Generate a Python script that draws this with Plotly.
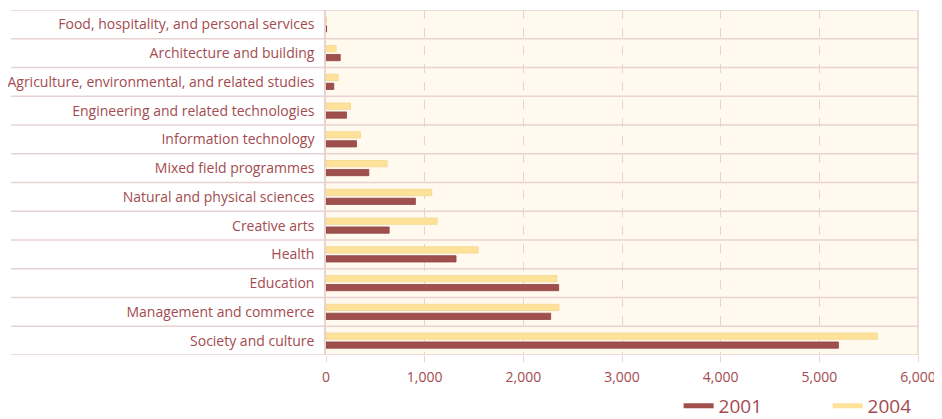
import plotly.graph_objects as go

categories = [
    "Society and culture",
    "Management and commerce",
    "Education",
    "Health",
    "Creative arts",
    "Natural and physical sciences",
    "Mixed field programmes",
    "Information technology",
    "Engineering and related technologies",
    "Agriculture, environmental, and related studies",
    "Architecture and building",
    "Food, hospitality, and personal services",
]
values_2001 = [5193, 2277, 2358, 1318, 640, 906, 434, 309, 208, 79, 144, 6]
values_2004 = [5588, 2361, 2341, 1541, 1126, 1072, 620, 349, 248, 123, 103, 4]
x_ticks = [0, 1000, 2000, 3000, 4000, 5000, 6000]
x_tick_labels = ["0", "1,000", "2,000", "3,000", "4,000", "5,000", "6,000"]

RED = "#A0504C"
YEL = "#FFE29A"
TXT = "#A34B50"
LINE = "#E8D2D2"
BG = "#FFF9EE"
FONT = "Open Sans"

fig = go.Figure()
fig.add_trace(go.Bar(y=categories, x=values_2001, orientation="h", name="2001",
                     marker=dict(color=RED, line=dict(color="#8E4340", width=0.8)),
                     showlegend=False))
fig.add_trace(go.Bar(y=categories, x=values_2004, orientation="h", name="2004",
                     marker=dict(color=YEL, line=dict(color="#F3D58C", width=0.8)),
                     showlegend=False))
fig.add_trace(go.Scatter(x=[None], y=[None], mode="lines", name="2001",
                         line=dict(color=RED, width=5)))
fig.add_trace(go.Scatter(x=[None], y=[None], mode="lines", name="2004",
                         line=dict(color=YEL, width=5)))

shapes = []
for i in range(len(categories) + 1):
    shapes.append(dict(type="line", xref="paper", yref="y",
                       x0=-0.532, x1=1, y0=i - 0.5, y1=i - 0.5,
                       line=dict(color=LINE, width=1.5), layer="below"))
shapes.append(dict(type="line", xref="paper", yref="paper", x0=1, x1=1, y0=0, y1=1,
                   line=dict(color=LINE, width=1.5)))

# page body has an 8px default margin; figure sized to fill the rest of the window
fig.update_layout(
    width=934, height=411,
    margin=dict(l=318, r=24, t=2, b=64, autoexpand=False),
    paper_bgcolor="white", plot_bgcolor=BG,
    barmode="group", bargap=0.38, bargroupgap=0.3,
    font=dict(family=FONT, color=TXT, size=14),
    shapes=shapes,
    showlegend=True,
    legend=dict(orientation="h", xref="container", yref="container",
                x=0.718, xanchor="left", y=0.032, yanchor="middle",
                font=dict(size=19, color=TXT), entrywidth=104, entrywidthmode="pixels",
                bgcolor="rgba(0,0,0,0)", traceorder="normal"),
)
fig.update_xaxes(range=[0, 6000], tickvals=x_ticks, ticktext=x_tick_labels,
                 showgrid=True, gridcolor=LINE, griddash="dash", gridwidth=1,
                 zeroline=False, showline=False, automargin=False,
                 ticks="outside", ticklen=6, tickcolor=LINE, ticklabelstandoff=3,
                 tickfont=dict(size=14, color=TXT, family=FONT))
fig.update_yaxes(categoryorder="array", categoryarray=categories,
                 showgrid=False, zeroline=False, automargin=False,
                 showline=True, linecolor=LINE, linewidth=1.5,
                 ticks="outside", ticklen=7, tickcolor="rgba(0,0,0,0)",
                 tickfont=dict(size=14, color=TXT, family=FONT),
                 range=[-0.5, len(categories) - 0.5])

fig.write_html("out.html")
